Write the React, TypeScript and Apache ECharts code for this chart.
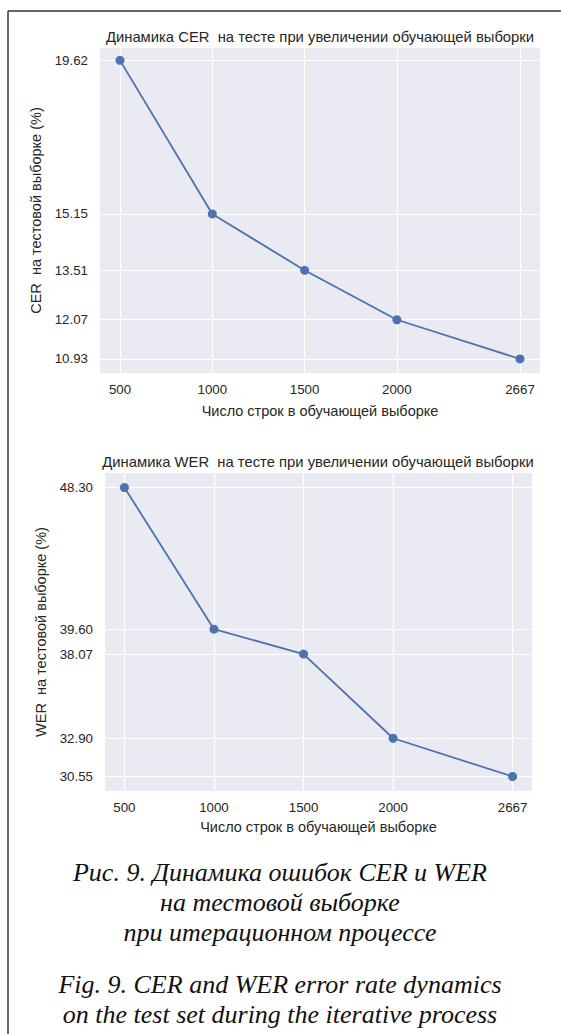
import React, { useEffect, useRef } from "react";
import * as echarts from "echarts";

const trainSizes = [500, 1000, 1500, 2000, 2667];
const cerValues = [19.62, 15.15, 13.51, 12.07, 10.93];
const werValues = [48.3, 39.6, 38.07, 32.9, 30.55];
const xTickLabels = ["500", "1000", "1500", "2000", "2667"];

const cerTitle = "Динамика CER  на тесте при увеличении обучающей выборки";
const werTitle = "Динамика WER  на тесте при увеличении обучающей выборки";
const cerYName = "CER  на тестовой выборке (%)";
const werYName = "WER  на тестовой выборке (%)";
const xName = "Число строк в обучающей выборке";
const captionLines = [
  "Рис. 9. Динамика ошибок CER и WER",
  "на тестовой выборке",
  "при итерационном процессе",
  "Fig. 9. CER and WER error rate dynamics",
  "on the test set during the iterative process",
];

const SANS = "Liberation Sans, Arial, sans-serif";
const SERIF = "Liberation Serif, Times New Roman, serif";
const TXT = "#262626";
const BLUE = "#4C72B0";

export default function App() {
  const ref = useRef<HTMLDivElement>(null);
  useEffect(() => {
    if (!ref.current) return;
    const chart = echarts.init(ref.current, null, { renderer: "svg" });
    const xSpan = trainSizes[trainSizes.length - 1] - trainSizes[0];
    const xMin = trainSizes[0] - xSpan * 0.05;
    const xMax = trainSizes[trainSizes.length - 1] + xSpan * 0.05;

    const makeX = (idx: number, gap: number) => ({
      type: "value",
      gridIndex: idx,
      min: xMin,
      max: xMax,
      name: xName,
      nameLocation: "middle",
      nameGap: gap,
      nameTextStyle: { fontFamily: SANS, fontSize: 14.5, color: TXT },
      axisLine: { show: false },
      axisTick: { show: false, customValues: trainSizes },
      axisLabel: {
        customValues: trainSizes,
        formatter: (v: number) => xTickLabels[trainSizes.indexOf(v)] ?? String(v),
        fontFamily: SANS,
        fontSize: 13.3,
        color: TXT,
        margin: 10,
      },
      splitLine: { show: true, lineStyle: { color: "#ffffff", width: 1.1 } },
    });
    const makeY = (idx: number, vals: number[], min: number, max: number, name: string, gap: number) => ({
      type: "value",
      gridIndex: idx,
      min,
      max,
      name,
      nameLocation: "middle",
      nameRotate: 90,
      nameGap: gap,
      nameTextStyle: { fontFamily: SANS, fontSize: 14.5, color: TXT },
      axisLine: { show: false },
      axisTick: { show: false, customValues: vals },
      axisLabel: {
        customValues: vals,
        formatter: (v: number) => v.toFixed(2),
        fontFamily: SANS,
        fontSize: 13.3,
        color: TXT,
        margin: 12,
      },
      splitLine: { show: true, lineStyle: { color: "#ffffff", width: 1.1 } },
    });

    const captionY = [872, 902, 932, 984, 1014];

    chart.setOption({
      animation: false,
      backgroundColor: "#ffffff",
      grid: [
        { left: 100, top: 48, width: 440, height: 325, show: true, backgroundColor: "#EAEAF2", borderWidth: 0 },
        { left: 105, top: 473, width: 427, height: 318, show: true, backgroundColor: "#EAEAF2", borderWidth: 0 },
      ],
      xAxis: [makeX(0, 30), makeX(1, 28)],
      yAxis: [
        makeY(0, cerValues, 10.52, 19.98, cerYName, 50),
        makeY(1, werValues, 29.66, 49.19, werYName, 48),
      ],
      series: [
        {
          type: "line",
          xAxisIndex: 0,
          yAxisIndex: 0,
          data: trainSizes.map((x, i) => [x, cerValues[i]]),
          symbol: "circle",
          symbolSize: 9,
          lineStyle: { color: BLUE, width: 1.8 },
          itemStyle: { color: BLUE },
        },
        {
          type: "line",
          xAxisIndex: 1,
          yAxisIndex: 1,
          data: trainSizes.map((x, i) => [x, werValues[i]]),
          symbol: "circle",
          symbolSize: 9,
          lineStyle: { color: BLUE, width: 1.8 },
          itemStyle: { color: BLUE },
        },
      ],
      graphic: [
        { type: "line", shape: { x1: 8, y1: 11, x2: 561, y2: 11 }, style: { stroke: "#333333", lineWidth: 1.5 } },
        { type: "line", shape: { x1: 8, y1: 11, x2: 8, y2: 1034 }, style: { stroke: "#333333", lineWidth: 1.5 } },
        {
          type: "text",
          x: 320,
          y: 37,
          style: { text: cerTitle, fontFamily: SANS, fontSize: 14.8, fill: TXT, textAlign: "center", textVerticalAlign: "middle" },
        },
        {
          type: "text",
          x: 318,
          y: 462,
          style: { text: werTitle, fontFamily: SANS, fontSize: 14.8, fill: TXT, textAlign: "center", textVerticalAlign: "middle" },
        },
        ...captionLines.map((t, i) => ({
          type: "text",
          x: 280,
          y: captionY[i],
          style: {
            text: t,
            fontFamily: SERIF,
            fontStyle: "italic",
            fontSize: 26,
            fill: "#111111",
            textAlign: "center",
            textVerticalAlign: "middle",
          },
        })),
      ],
    });
    return () => chart.dispose();
  }, []);
  return <div ref={ref} style={{ position: "absolute", left: 0, top: 0, width: 561, height: 1034 }} />;
}
